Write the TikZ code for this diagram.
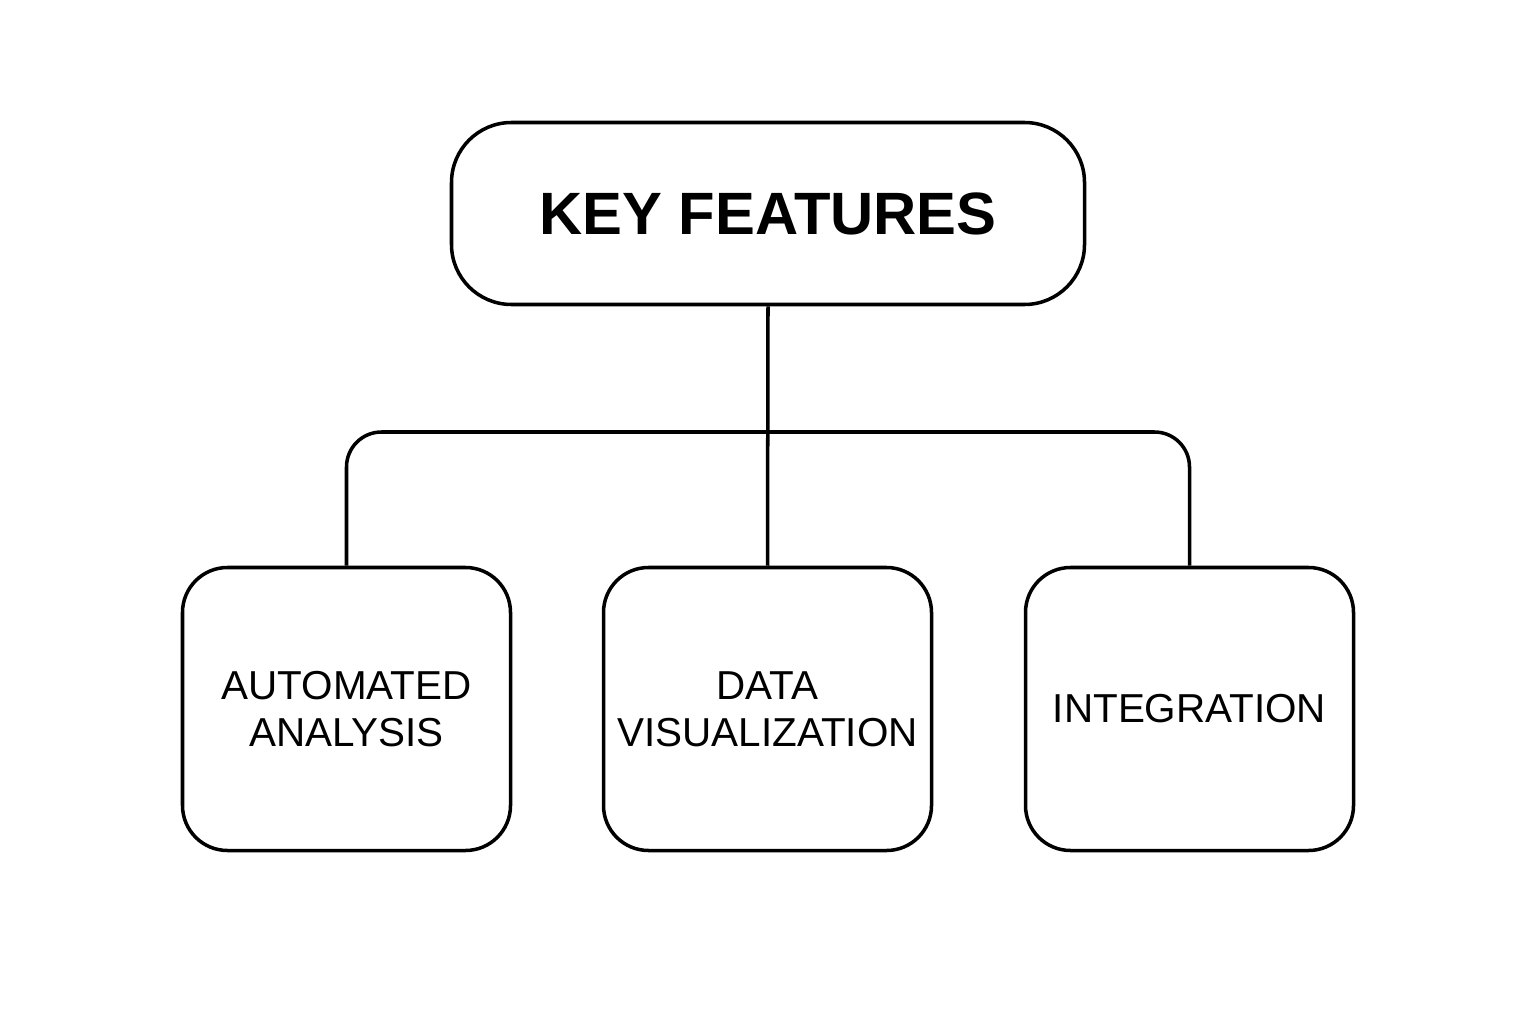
\documentclass[tikz,border=0pt]{standalone}
\usepackage{fontspec}
\setmainfont{Liberation Sans}
\usepackage{tikz}
\usetikzlibrary{positioning}
\tikzset{
  topbox/.style={draw, line width=1pt, rounded corners=0.6cm, minimum width=6.33cm, minimum height=1.82cm, font=\fontsize{17}{20}\selectfont\bfseries},
  featbox/.style={draw, line width=1pt, rounded corners=0.45cm, minimum width=3.28cm, minimum height=2.83cm, align=center, font=\fontsize{11.5}{13.4}\selectfont},
  link/.style={line width=1pt}
}
\begin{document}
\begin{tikzpicture}
\useasboundingbox (0,0) rectangle (15.36,10.24);
\def\dist{0.07cm}
\node[topbox](kf) at (7.68,8.105) {KEY FEATURES};
% the three features
\node[featbox](1) at (3.465,3.15) {AUTOMATED\\ANALYSIS};
\node[featbox](2) at (7.675,3.15) {DATA\\VISUALIZATION};
\node[featbox](3) at (11.895,3.15) {INTEGRATION};

%horizontal bar between the levels
\coordinate(bar) at (kf.south |- 0,5.92);
\draw[link] (kf.south) -- (2.north);
\draw[link, rounded corners=0.35cm] (1.north) |- (bar) -| (3.north);
\end{tikzpicture}
\end{document}
